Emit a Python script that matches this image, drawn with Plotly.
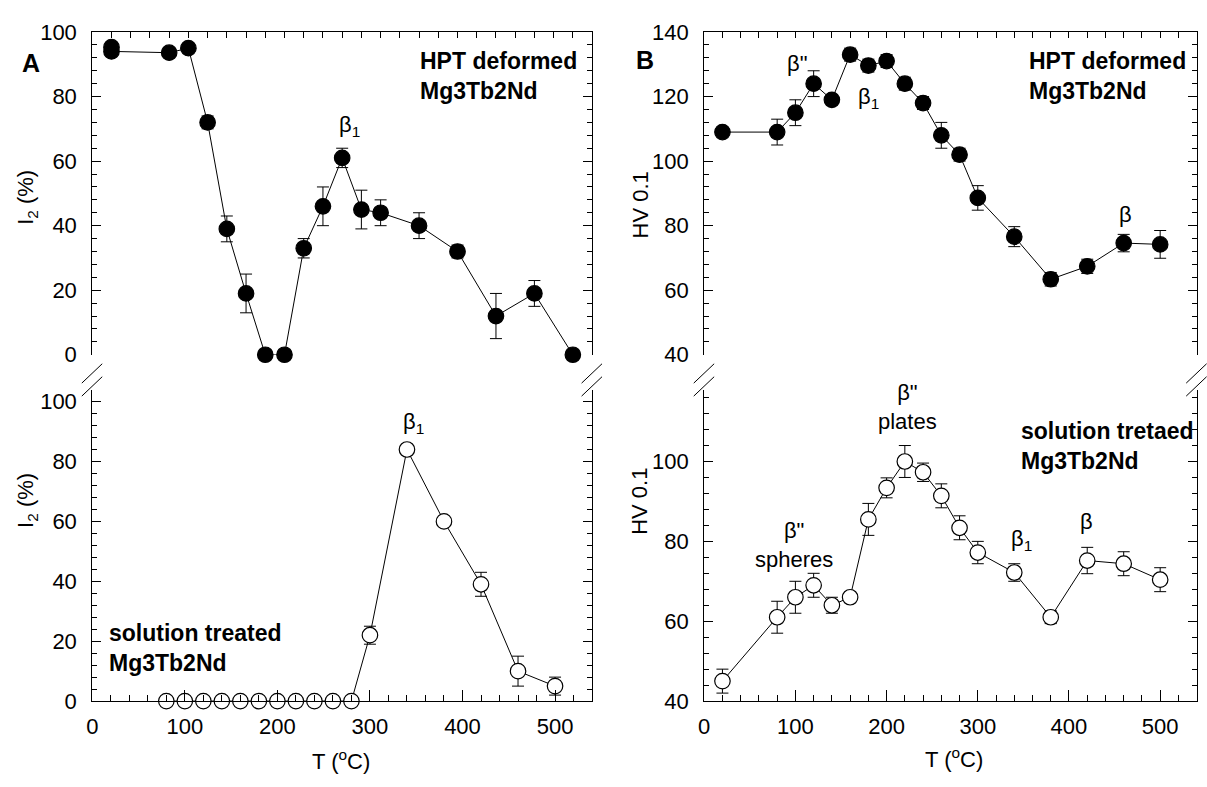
import plotly.graph_objects as go

# ---------------- data ----------------
# (A) top: HPT deformed, I2 (%)
t_hpt_i2 = [20, 20, 80, 100, 120, 140, 160, 180, 200, 220, 240, 260, 280, 300, 340, 380, 420, 460, 500]
i2_hpt = [95.3, 94, 93.6, 95, 72, 39, 19, 0, 0, 33, 46, 61, 45, 44, 40, 32, 12, 19, 0]
i2_hpt_err = [0, 0, 0, 0, 2, 4, 6, 0, 0, 3, 6, 3, 6, 4, 4, 2, 7, 4, 0]

# (A) bottom: solution treated, I2 (%)
t_sol_i2 = [80, 100, 120, 140, 160, 180, 200, 220, 240, 260, 280, 300, 340, 380, 420, 460, 500]
i2_sol = [0, 0, 0, 0, 0, 0, 0, 0, 0, 0, 0, 22, 84, 60, 39, 10, 5]
i2_sol_err = [0, 0, 0, 0, 0, 0, 0, 0, 0, 0, 0, 3, 0, 0, 4, 5, 3]

# (B) top: HPT deformed, HV 0.1
t_hv = [20, 80, 100, 120, 140, 160, 180, 200, 220, 240, 260, 280, 300, 340, 380, 420, 460, 500]
hv_hpt = [109, 109, 115, 124, 119, 133, 129.6, 131, 124, 118, 108, 102, 88.6, 76.6, 63.4, 67.4, 74.6, 74.2]
hv_hpt_err = [0, 4, 4, 4, 0, 2, 2, 2, 2, 2, 4, 2, 3.8, 3.1, 2.1, 2.2, 2.7, 4.3]

# (B) bottom: solution treated, HV 0.1
hv_sol = [45, 61, 66, 69, 64, 66, 85.5, 93.4, 100, 97.3, 91.4, 83.4, 77.2, 72.2, 61, 75.2, 74.4, 70.4]
hv_sol_err = [3, 4, 4, 3, 2, 0, 4, 2.5, 4, 2.3, 3, 3, 2.8, 2.2, 1.6, 3.3, 3, 3]

# ---------------- layout helpers ----------------
W, H = 1207, 787
FONT = "Liberation Sans, Arial, sans-serif"


def px(x):
    return x / W


def py(y):
    return 1 - y / H


XL = [px(86.7), px(589)]
XR = [px(701.7), px(1196.6)]
YT = [py(354), py(20.7)]
YB = [py(711.7), py(390)]

fig = go.Figure()


def add_series(x, y, err, xa, ya, filled):
    fig.add_trace(go.Scatter(
        x=x, y=y, xaxis=xa, yaxis=ya, mode="lines+markers",
        line=dict(color="black", width=1),
        marker=dict(size=15.5, color="black" if filled else "white",
                    line=dict(color="black", width=1.2)),
        error_y=dict(type="data", array=err, visible=True, color="black",
                     thickness=1, width=6),
        cliponaxis=False, showlegend=False,
    ))


add_series(t_hpt_i2, i2_hpt, i2_hpt_err, "x", "y", True)
add_series(t_sol_i2, i2_sol, i2_sol_err, "x2", "y2", False)
add_series(t_hv, hv_hpt, hv_hpt_err, "x3", "y3", True)
add_series(t_hv, hv_sol, hv_sol_err, "x4", "y4", False)

tickfont = dict(family=FONT, size=22, color="black")


def xax_top(domain, anchor, rng):
    return dict(domain=domain, anchor=anchor, side="top", range=rng,
                showline=True, linecolor="black", linewidth=1, mirror=False,
                ticks="inside", tick0=0, dtick=20, ticklen=6, tickcolor="black",
                showticklabels=False, showgrid=False, zeroline=False)


def xax_bot(domain, anchor):
    return dict(domain=domain, anchor=anchor, range=[0, 540],
                showline=True, linecolor="black", linewidth=1, mirror=False,
                ticks="inside", tick0=0, dtick=100, ticklen=11, tickcolor="black",
                minor=dict(ticks="inside", dtick=20, ticklen=6, tickcolor="black"),
                tickfont=tickfont, ticklabelstandoff=6,
                showgrid=False, zeroline=False)


def yax(domain, anchor, rng, t0):
    return dict(domain=domain, anchor=anchor, range=rng,
                showline=True, linecolor="black", linewidth=1, mirror="ticks",
                ticks="inside", tick0=t0, dtick=20, ticklen=9, tickcolor="black",
                minor=dict(ticks="inside", dtick=4, tick0=t0, ticklen=5, tickcolor="black"),
                tickfont=tickfont, ticklabelstandoff=10,
                showgrid=False, zeroline=False)


layout = dict(
    width=W, height=H, margin=dict(l=0, r=0, t=0, b=0),
    paper_bgcolor="white", plot_bgcolor="white",
    font=dict(family=FONT, color="black"),
    xaxis=xax_top(XL, "y", [0, 520]),
    yaxis=yax(YT, "x", [0, 100], 0),
    xaxis2=xax_bot(XL, "y2"),
    yaxis2=yax(YB, "x2", [0, 104], 0),
    xaxis3=xax_top(XR, "y3", [0, 540]),
    yaxis3=yax(YT, "x3", [40, 140], 40),
    xaxis4=xax_bot(XR, "y4"),
    yaxis4=yax(YB, "x4", [40, 118], 40),
)
fig.update_layout(**layout)

# break marks on the y spines
shapes = []
for s in [86.7, 589, 701.7, 1196.6]:
    for (y1, y2) in [(383.3, 363.3), (396.7, 376.7)]:
        shapes.append(dict(type="line", xref="paper", yref="paper",
                           x0=px(s - 10.5), y0=py(y1), x1=px(s + 10), y1=py(y2),
                           line=dict(color="black", width=1)))
fig.update_layout(shapes=shapes)

annotations = []


def ann(text, x, y, size=22, xanchor="center", align="center", angle=0):
    annotations.append(dict(text=text, x=px(x), y=py(y), xref="paper", yref="paper",
                            xanchor=xanchor, yanchor="middle", align=align,
                            textangle=angle, showarrow=False,
                            font=dict(family=FONT, size=size, color="black")))


# panel letters
ann("<b>A</b>", 25, 53, size=25)
ann("<b>B</b>", 642, 50, size=25)
# sample labels
ann("<b>HPT deformed<br>Mg3Tb2Nd</b>", 413.8, 66.5, size=23, xanchor="left", align="left")
ann("<b>HPT deformed<br>Mg3Tb2Nd</b>", 1026.4, 66, size=23, xanchor="left", align="left")
ann("<b>solution treated<br>Mg3Tb2Nd</b>", 101.5, 656.7, size=23, xanchor="left", align="left")
ann("<b>solution tretaed<br>Mg3Tb2Nd</b>", 1017.6, 448.3, size=23, xanchor="left", align="left")
# phase labels
ann("β<sub>1</sub>", 345, 118)
ann("β<sub>1</sub>", 410, 425)
ann('β"', 795.4, 53.3)
ann("β<sub>1</sub>", 867, 89)
ann("β", 1125, 209.3)
ann('β"<br>spheres', 792, 550)
ann('β"<br>plates', 906.5, 408.3)
ann("β<sub>1</sub>", 1021, 545)
ann("β", 1085.4, 526.7)
# axis titles
ann("I<sub>2</sub> (%)", 21, 191, angle=-90)
ann("I<sub>2</sub> (%)", 21, 504, angle=-90)
ann("HV 0.1", 638, 199, angle=-90)
ann("HV 0.1", 636.4, 505.7, angle=-90)
ann("T (<sup>o</sup>C)", 337, 773)
ann("T (<sup>o</sup>C)", 953, 770.7)

fig.update_layout(annotations=annotations)

fig.write_html("out.html", config={"displayModeBar": False},
               post_script="document.body.style.margin='0';")
